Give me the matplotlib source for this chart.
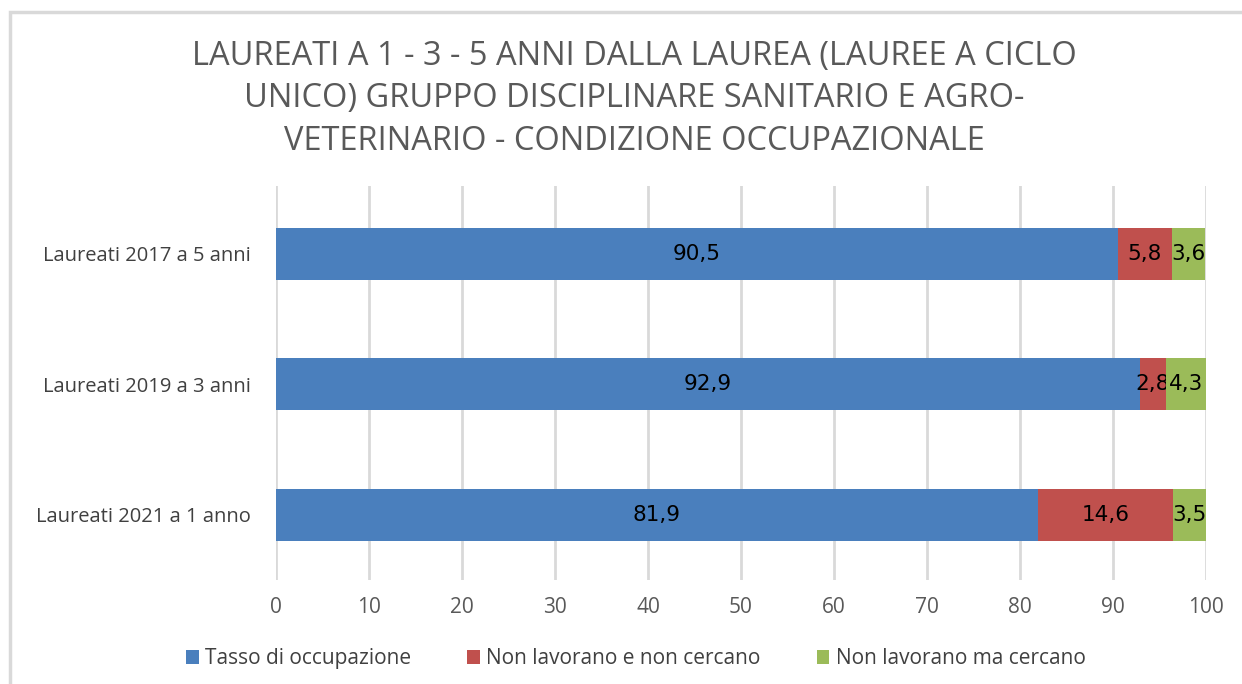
import matplotlib
matplotlib.use('Agg')
import matplotlib.pyplot as plt
from matplotlib.patches import Rectangle

# data
categories = ['Laureati 2021 a 1 anno', 'Laureati 2019 a 3 anni', 'Laureati 2017 a 5 anni']
occupati = [81.9, 92.9, 90.5]
non_cercano = [14.6, 2.8, 5.8]
cercano = [3.5, 4.3, 3.6]
series_names = ['Tasso di occupazione', 'Non lavorano e non cercano', 'Non lavorano ma cercano']
colors = ['#4A7FBD', '#C0504D', '#9BBB59']
title = ('LAUREATI A 1 - 3 - 5 ANNI DALLA LAUREA (LAUREE A CICLO\n'
         'UNICO) GRUPPO DISCIPLINARE SANITARIO E AGRO-\n'
         'VETERINARIO - CONDIZIONE OCCUPAZIONALE')

plt.rcParams['font.family'] = ['Open Sans', 'DejaVu Sans']

fig = plt.figure(figsize=(12.42, 6.84), dpi=100)
ax = fig.add_axes([276 / 1242, 1 - 580 / 684, 930 / 1242, 394 / 684])

# chart border
fig.patches.append(Rectangle((10 / 1242, -0.1), 1.2, 1 - 12 / 684 + 0.1,
                             transform=fig.transFigure, fill=False,
                             edgecolor='#D9D9D9', linewidth=2.5))

y = range(len(categories))
left = [0] * len(categories)
for vals, name, c in zip([occupati, non_cercano, cercano], series_names, colors):
    bars = ax.barh(y, vals, left=left, height=0.4, color=c, label=name, zorder=3)
    labels = [('%.1f' % v).replace('.', ',') for v in vals]
    ax.bar_label(bars, labels=labels, label_type='center', fontsize=15.5,
                 color='black', family=['DejaVu Sans'])
    left = [l + v for l, v in zip(left, vals)]

ax.set_xlim(0, 100)
ax.set_ylim(-0.5, 2.52)
ax.set_xticks(range(0, 101, 10))
ax.set_yticks(list(y))
ax.set_yticklabels(categories)
ax.grid(axis='x', color='#D9D9D9', linewidth=2, zorder=0)
ax.tick_params(axis='x', labelsize=15, colors='#595959', length=0, pad=12)
ax.tick_params(axis='y', labelsize=14.5, colors='#404040', length=0, pad=18)
for s in ax.spines.values():
    s.set_visible(False)

fig.text(0.511, 1 - 99 / 684, title, ha='center', va='center', fontsize=23.5,
         color='#595959', linespacing=1.38)

ax.legend(loc='center', bbox_to_anchor=(0.387, -0.2), ncol=3, frameon=False,
          fontsize=15, handlelength=0.6, handleheight=0.6, handletextpad=0.3,
          columnspacing=2.7, labelcolor='#404040')

fig.savefig('out.png', dpi=100)
